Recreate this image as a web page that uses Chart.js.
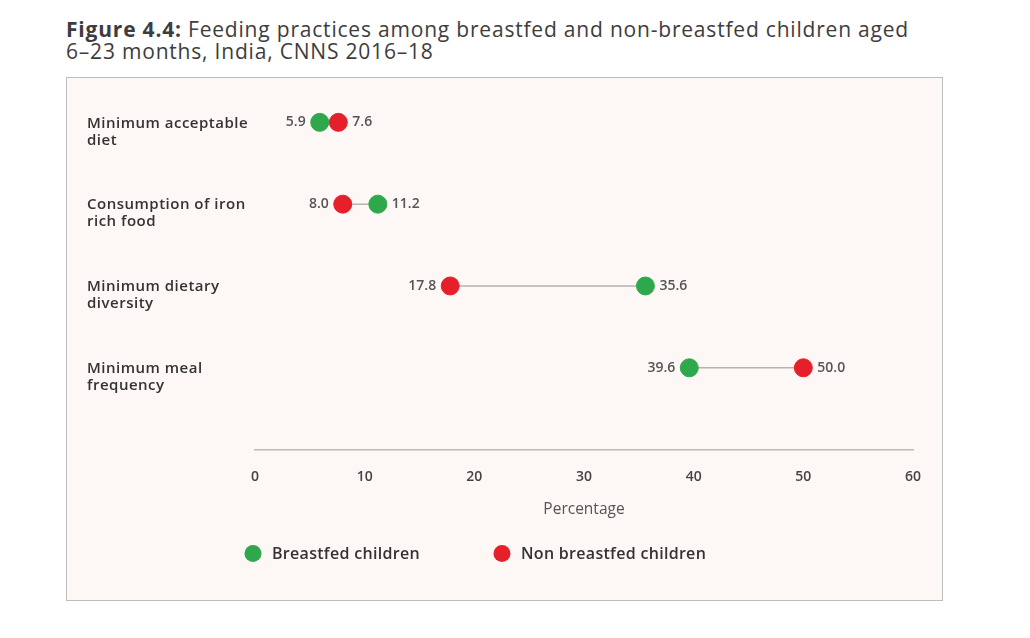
<!DOCTYPE html>
<html>
<head>
<meta charset="utf-8">
<script src="https://cdn.jsdelivr.net/npm/chart.js@4.4.1/dist/chart.umd.min.js"></script>
<style>
  body { margin: 0; background: #fff; font-family: "Open Sans", "Noto Sans", sans-serif; }
  #title { position: absolute; left: 66px; top: 18px; font-size: 21px; line-height: 22px;
           letter-spacing: 0.8px; color: #3d3d3d; }
  #title b { font-weight: 700; }
  #box { position: absolute; left: 66px; top: 77px; width: 875px; height: 522px;
         border: 1px solid #bdbdbd; background: #fdf8f6; }
</style>
</head>
<body>
<div id="title"><b>Figure 4.4:</b> Feeding practices among breastfed and non-breastfed children aged<br>6–23 months, India, CNNS 2016–18</div>
<div id="box"><canvas id="chart" width="875" height="522"></canvas></div>
<script>
// ===== Data =====
const categories = [
  ['Minimum acceptable', 'diet'],
  ['Consumption of iron', 'rich food'],
  ['Minimum dietary', 'diversity'],
  ['Minimum meal', 'frequency']
];
const breastfed = [5.9, 11.2, 35.6, 39.6];
const nonBreastfed = [7.6, 8.0, 17.8, 50.0];
const xTicks = [0, 10, 20, 30, 40, 50, 60];
const seriesNames = ['Breastfed children', 'Non breastfed children'];

const GREEN = '#2ea84b';
const RED = '#e5202a';
const FONT = '"Open Sans", "Noto Sans", sans-serif';

// rows sit at y = 1..4 on a linear (reversed) axis
const rowOf = i => i + 1;

// grey connector lines, one dataset per category
const connectors = categories.map((c, i) => ({
  type: 'line',
  data: [{ x: breastfed[i], y: rowOf(i) }, { x: nonBreastfed[i], y: rowOf(i) }],
  borderColor: '#b5b2b0',
  borderWidth: 1.5,
  pointRadius: 0,
  order: 2
}));

const dotSet = (label, values, color) => ({
  type: 'scatter',
  label: label,
  data: values.map((v, i) => ({ x: v, y: rowOf(i) })),
  backgroundColor: color,
  borderColor: color,
  pointRadius: 9,
  pointHoverRadius: 9,
  order: 1
});

// ===== Value labels beside each dot =====
const valueLabels = {
  id: 'valueLabels',
  afterDatasetsDraw(chart) {
    const ctx = chart.ctx;
    const n = categories.length;
    const gMeta = chart.getDatasetMeta(n), rMeta = chart.getDatasetMeta(n + 1);
    ctx.save();
    ctx.font = '600 14px ' + FONT;
    ctx.fillStyle = '#555';
    ctx.textBaseline = 'middle';
    categories.forEach((c, i) => {
      const pairs = [[breastfed[i], gMeta.data[i]], [nonBreastfed[i], rMeta.data[i]]];
      const lo = breastfed[i] <= nonBreastfed[i] ? 0 : 1;
      pairs.forEach((p, k) => {
        const el = p[1];
        if (k === lo) { ctx.textAlign = 'right'; ctx.fillText(p[0].toFixed(1), el.x - 14, el.y); }
        else { ctx.textAlign = 'left'; ctx.fillText(p[0].toFixed(1), el.x + 14, el.y); }
      });
    });
    ctx.restore();
  }
};

// ===== Category labels, left aligned, first line level with the dots =====
const rowLabels = {
  id: 'rowLabels',
  afterDraw(chart) {
    const ctx = chart.ctx;
    const y = chart.scales.y;
    ctx.save();
    ctx.font = '600 15px ' + FONT;
    ctx.letterSpacing = '0.5px';
    ctx.fillStyle = '#333';
    ctx.textAlign = 'left';
    ctx.textBaseline = 'middle';
    categories.forEach((lines, i) => {
      const py = y.getPixelForValue(rowOf(i)) + 1;
      lines.forEach((t, k) => ctx.fillText(t, 20, py + k * 17));
    });
    ctx.restore();
  }
};

// ===== Legend drawn under the axis title =====
const bottomLegend = {
  id: 'bottomLegend',
  afterDraw(chart) {
    const ctx = chart.ctx;
    const a = chart.chartArea;
    const cy = a.bottom + 104;
    const items = [[seriesNames[0], GREEN, a.left - 2], [seriesNames[1], RED, a.left + 247]];
    ctx.save();
    ctx.font = '600 16px ' + FONT;
    ctx.letterSpacing = '0.3px';
    ctx.textBaseline = 'middle';
    ctx.textAlign = 'left';
    items.forEach(([name, color, x]) => {
      ctx.beginPath();
      ctx.arc(x, cy, 8.5, 0, Math.PI * 2);
      ctx.fillStyle = color;
      ctx.fill();
      ctx.fillStyle = '#333';
      ctx.fillText(name, x + 19, cy + 1);
    });
    ctx.restore();
  }
};

new Chart(document.getElementById('chart'), {
  data: {
    datasets: [...connectors,
      dotSet(seriesNames[0], breastfed, GREEN),
      dotSet(seriesNames[1], nonBreastfed, RED)]
  },
  options: {
    responsive: false,
    animation: false,
    layout: { padding: { left: 188, right: 29, top: 2, bottom: 81 } },
    scales: {
      x: {
        type: 'linear',
        min: xTicks[0],
        max: xTicks[xTicks.length - 1],
        afterBuildTicks: s => { s.ticks = xTicks.map(v => ({ value: v })); },
        grid: { display: false, drawTicks: false },
        border: { display: true, color: '#bdbab8', width: 1.5 },
        ticks: { padding: 19, color: '#444', font: { family: FONT, size: 14, weight: '600' } },
        title: { display: true, text: 'Percentage', color: '#555',
                 font: { family: FONT, size: 15.5 }, padding: { top: -4, bottom: 0 } }
      },
      y: {
        type: 'linear',
        reverse: true,
        min: 0.58,
        max: 5,
        display: false
      }
    },
    plugins: {
      legend: { display: false },
      tooltip: { enabled: false }
    }
  },
  plugins: [valueLabels, rowLabels, bottomLegend]
});
</script>
</body>
</html>
